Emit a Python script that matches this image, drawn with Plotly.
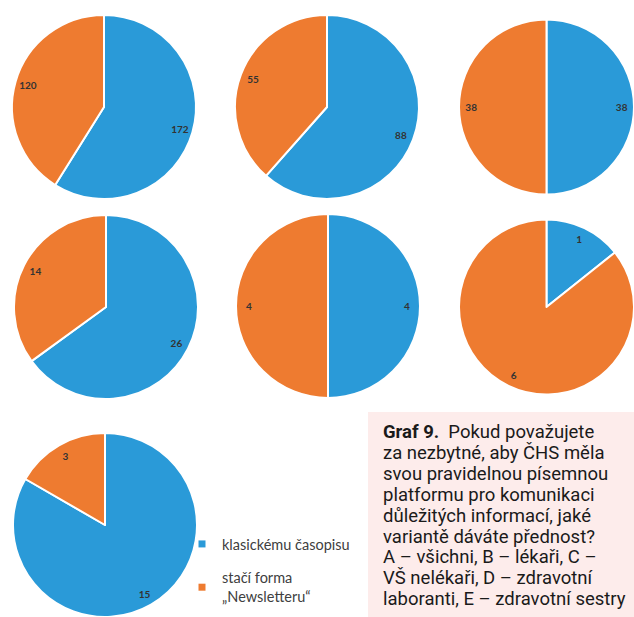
import plotly.graph_objects as go

# ---- data ----
categories = ["klasickému časopisu", "stačí forma „Newsletteru“"]
legend_names = ["klasickému časopisu", "stačí forma<br>„Newsletteru“"]
groups = ["A", "B", "C", "D", "E", "F", "G"]
classic = [172, 88, 38, 26, 4, 1, 15]
newsletter = [120, 55, 38, 14, 4, 6, 3]

caption_lines = [
    "<b>Graf 9.</b>\u00a0 Pokud považujete",
    "za nezbytné, aby ČHS měla",
    "svou pravidelnou písemnou",
    "platformu pro komunikaci",
    "důležitých informací, jaké",
    "variantě dáváte přednost?",
    "A – všichni, B – lékaři, C –",
    "VŠ nelékaři, D – zdravotní",
    "laboranti, E – zdravotní sestry",
]

# ---- styling / layout ----
colors = ["#2a9ad8", "#ee7b30"]
W, H = 634, 617
centers = [(104, 107), (327, 107), (551, 107),
           (106, 307), (328, 306), (551, 307),
           (105, 525)]
R = 92


def dom(cx, cy):
    return dict(
        x=[max(0.0, (cx - R) / W), min(1.0, (cx + R) / W)],
        y=[max(0.0, (H - cy - R) / H), min(1.0, (H - cy + R) / H)],
    )


fig = go.Figure()
for i, g in enumerate(groups):
    d = dom(*centers[i])
    vals = [classic[i], newsletter[i]]
    fig.add_trace(go.Pie(
        values=vals, labels=categories, domain=d, sort=False,
        direction="clockwise", rotation=0,
        marker=dict(colors=colors, line=dict(color="white", width=2)),
        textinfo="none", showlegend=False, hoverinfo="label+value", name=g,
    ))
    # transparent ring used to place value labels near the rim
    fig.add_trace(go.Pie(
        values=vals, labels=categories, domain=d, sort=False,
        direction="clockwise", rotation=0, hole=0.72,
        marker=dict(colors=["rgba(0,0,0,0)"] * 2, line=dict(width=0)),
        textinfo="value", textposition="inside",
        insidetextorientation="horizontal",
        textfont=dict(family="Lato", size=10, color="#333333", weight="bold"),
        showlegend=False, hoverinfo="skip", name=g,
    ))

for k in range(2):
    fig.add_trace(go.Scatter(
        x=[None], y=[None], mode="markers", name=legend_names[k],
        legendgroup=f"g{k}",
        marker=dict(symbol="square", size=7, color=colors[k]),
    ))

fig.add_shape(type="rect", xref="paper", yref="paper",
              x0=368 / W, x1=1, y0=0, y1=1 - 412 / H,
              fillcolor="#fdeceb", line=dict(width=0), layer="below")

LINE_H = 20.9
for j, line in enumerate(caption_lines):
    fig.add_annotation(
        xref="paper", yref="paper", x=381 / W, y=1 - (432 + j * LINE_H) / H,
        xanchor="left", yanchor="middle", align="left", showarrow=False,
        text=line,
        font=dict(family="Roboto", size=18.5, color="#1a1a1a"),
    )

fig.update_layout(
    width=W, height=H,
    margin=dict(l=0, r=0, t=0, b=0),
    paper_bgcolor="white", plot_bgcolor="white",
    xaxis=dict(visible=False), yaxis=dict(visible=False),
    showlegend=True,
    legend=dict(
        x=182 / W, y=1 - 528 / H, xanchor="left", yanchor="top",
        font=dict(family="Lato", size=14.5, color="#404040"),
        tracegroupgap=12, bgcolor="rgba(0,0,0,0)",
    ),
)

fig.write_html(
    "out.html",
    config={"displayModeBar": False},
    post_script="document.body.style.margin='0';document.body.style.overflow='hidden';",
)
